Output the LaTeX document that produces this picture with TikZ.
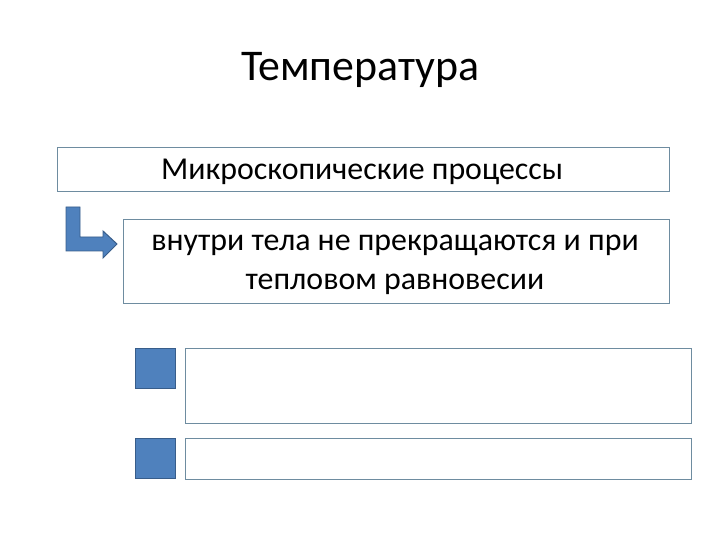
\documentclass[tikz,border=0pt]{standalone}
\usepackage{fontspec}
\setmainfont{Carlito}
\definecolor{boxline}{RGB}{110,140,160}
\definecolor{accfill}{RGB}{79,129,189}
\definecolor{accline}{RGB}{56,93,138}
\begin{document}
\begin{tikzpicture}[x=1bp,y=-1bp,
  tbox/.style={draw=boxline,line width=0.8pt,fill=white},
  sq/.style={draw=accline,line width=1pt,fill=accfill}]
\useasboundingbox (0,0) rectangle (720,540);
\node[font=\fontsize{44}{52}\selectfont] (title) at (360,70) {Температура};
\draw[tbox] (57,147) rectangle (669,191);
\node[font=\fontsize{32}{38}\selectfont] (t1) at (362,172) {Микроскопические процессы};
\draw[tbox] (123,219) rectangle (669,303);
\node[font=\fontsize{32}{39}\selectfont,align=center] (t2) at (395,265)
  {внутри тела не прекращаются и при\\тепловом равновесии};
\draw[sq,line join=miter] (66,207) -- (80,207) -- (80,237) -- (103,237) -- (103,231)
  -- (117,244) -- (103,258) -- (103,251) -- (66,251) -- cycle;
\draw[sq] (135,348) rectangle (175,388);
\draw[sq] (135,438) rectangle (175,478);
\draw[tbox] (185,348) rectangle (691,423);
\draw[tbox] (185,438) rectangle (691,479);
\end{tikzpicture}
\end{document}
